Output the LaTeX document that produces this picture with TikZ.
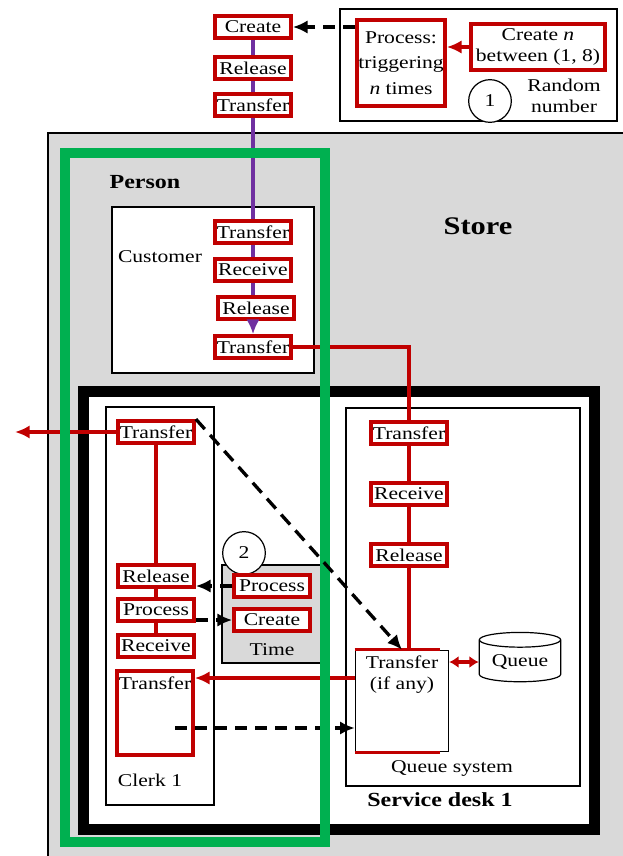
\documentclass[tikz,border=0pt]{standalone}
\usepackage{fontspec}
\setmainfont{Liberation Serif}[FakeStretch=1.2]
\usepackage{tikz}
\usetikzlibrary{arrows.meta,shapes.geometric}
\definecolor{actiondraw}{HTML}{C00000}
\definecolor{persongreen}{HTML}{00B050}
\definecolor{flowpurple}{HTML}{7030A0}
\definecolor{storefill}{HTML}{D9D9D9}
\tikzset{
  >=Latex,
  action box/.style={
    draw=actiondraw,
    fill=white,
    line width=2.8pt,
    minimum width=57pt,
    minimum height=16.5pt,
    inner sep=1pt,
    font=\fontsize{13.5}{16}\selectfont
  },
  frame/.style={
    draw=black,
    fill=white,
    line width=0.9pt
  },
  red link/.style={
    draw=actiondraw,
    line width=2.5pt
  },
  red arrow/.style={
    red link,
    -{Latex[length=11pt,width=10pt]}
  },
  purple link/.style={
    draw=flowpurple,
    line width=2.5pt
  },
  trigger/.style={
    draw=black,
    line width=2.5pt,
    dash pattern=on 9pt off 6pt,
    -{Latex[length=11pt,width=10pt]}
  },
  plain label/.style={
    font=\fontsize{13.5}{16}\selectfont,
    align=center
  },
  title label/.style={
    font=\bfseries\fontsize{15}{18}\selectfont
  },
  marker/.style={
    circle,
    draw=black,
    fill=white,
    line width=0.9pt,
    minimum size=32pt,
    inner sep=0pt,
    font=\fontsize{13.5}{16}\selectfont
  }
}

\begin{document}
\begin{tikzpicture}[x=0.75pt,y=-0.75pt]
  \useasboundingbox (0,0) rectangle (623,856);

  % frames
  \draw[fill=storefill,line width=0.9pt] (48,133) rectangle (640,880);
  \draw[frame,line width=1.2pt] (340,9) rectangle (617,121);
  \draw[frame] (112,207) rectangle (314,373);
  \draw[fill=white,line width=8.25pt] (83,391) rectangle (594,829);
  \draw[frame] (106,407) rectangle (214,805);
  \draw[frame] (346,408) rectangle (580,786);
  \draw[frame,fill=storefill] (222,565) rectangle (322,663);

  % random number source
  \node[action box] (src create) at (253,27) {Create};
  \node[action box] (src release) at (253,68) {Release};
  \node[action box] (src transfer) at (253,105) {Transfer};
  \node[action box,minimum width=66pt,minimum height=64pt,align=center,
    font=\fontsize{13.5}{19}\selectfont] (trigger box) at (401,63)
    {Process:\\triggering\\\textit{n} times};
  \node[action box,minimum width=101pt,minimum height=34pt,align=center]
    (random box) at (538,47) {Create \textit{n}\\between (1, 8)};
  \node[marker] (rand mark) at (490,101) {1};
  \node[plain label] (rand text) at (564,96) {Random\\number};

  \node[title label] (person) at (145,182) {Person};
  \node[title label,font=\bfseries\fontsize{19}{22}\selectfont] (store) at (478,226) {Store};

  % customer
  \node[plain label] (cust label) at (160,257) {Customer};
  \node[action box] (cust in) at (253,232) {Transfer};
  \node[action box] (cust receive) at (253,270) {Receive};
  \node[action box] (cust release) at (256,308) {Release};
  \node[action box] (cust out) at (253,347) {Transfer};

  % clerk
  \node[action box] (clerk out) at (156,432) {Transfer};
  \node[action box] (clerk release) at (156,576) {Release};
  \node[action box] (clerk process) at (156,610) {Process};
  \node[action box] (clerk receive) at (156,646) {Receive};
  \node[action box,minimum height=63pt,
    label={[plain label,anchor=north,yshift=-2pt]north:Transfer}] (clerk in) at (155,713) {};
  \node[plain label] (clerk label) at (150,780) {Clerk 1};

  % time
  \node[marker] (time mark) at (244,553) {2};
  \node[action box] (time process) at (272,586) {Process};
  \node[action box] (time create) at (272,620) {Create};
  \node[plain label] (time label) at (272,650) {Time};

  % queue system
  \node[action box] (desk in) at (409,433) {Transfer};
  \node[action box] (desk receive) at (409,494) {Receive};
  \node[action box] (desk release) at (409,555) {Release};
  \node[frame,minimum width=70pt,minimum height=76pt,inner sep=0pt,
    label={[plain label,anchor=north,yshift=-1pt]north:Transfer\\(if any)}] (desk hand) at (402,701) {};
  \node[cylinder,shape border rotate=90,aspect=0.25,frame,plain label,
    minimum width=61pt,minimum height=37pt,inner sep=1pt] (queue) at (520,662) {Queue};
  \node[plain label] (queue label) at (452,768) {Queue system};
  \node[title label] (desk label) at (440,800) {Service desk 1};

  \coordinate (exit) at (15,432);

  % connectors
  \draw[purple link] (src create) -- (src release);
  \draw[purple link] (src release) -- (src transfer);
  \draw[purple link] (src transfer) -- (cust in);
  \draw[purple link] (cust in) -- (cust receive);
  \draw[purple link] (cust receive) -- (cust receive.south |- cust release.north);
  \draw[purple link,-{Latex[length=11pt,width=10pt]}]
    (cust release.south -| cust in.south) -- (cust out);

  \draw[red arrow] (random box.west) -- (random box.west -| trigger box.east);
  \draw[trigger] (trigger box.west |- src create.east) -- (src create.east);

  \draw[red link] (cust out.east) -| (desk in.north);
  \draw[red link] (desk in) -- (desk receive);
  \draw[red link] (desk receive) -- (desk release);
  \draw[red link] (desk release.south) -- (desk release.south |- desk hand.north);
  \draw[red link] (desk hand.north west) -- ([xshift=-7pt]desk hand.north east);
  \draw[red link] (desk hand.south west) -- ([xshift=-7pt]desk hand.south east);
  \draw[red link,{Latex[length=7pt,width=9pt]}-{Latex[length=7pt,width=9pt]}]
    (desk hand.east |- queue.west) -- (queue.west);
  \draw[red arrow] ([yshift=17.25pt]desk hand.west) -- ([yshift=17.25pt]desk hand.west -| clerk in.east);
  \draw[trigger] ([xshift=15pt,yshift=-11.25pt]clerk in.center) -- ([yshift=-20.25pt]desk hand.west);

  \draw[red arrow] (clerk out.west) -- (exit);
  \draw[red link] (clerk out) -- (clerk release);
  \draw[red link] (clerk release) -- (clerk process);
  \draw[red link] (clerk process) -- (clerk receive);
  \draw[trigger] (time process.west) -- (time process.west -| clerk release.east);
  \draw[trigger] (clerk process.east |- time create.west) -- (time create.west);

  % person
  \draw[draw=persongreen,line width=7.5pt] (65,153) rectangle (325,842);

  \draw[trigger,dash pattern=on 10pt off 6pt] (clerk out.north east) -- (desk hand.north);
\end{tikzpicture}
\end{document}
